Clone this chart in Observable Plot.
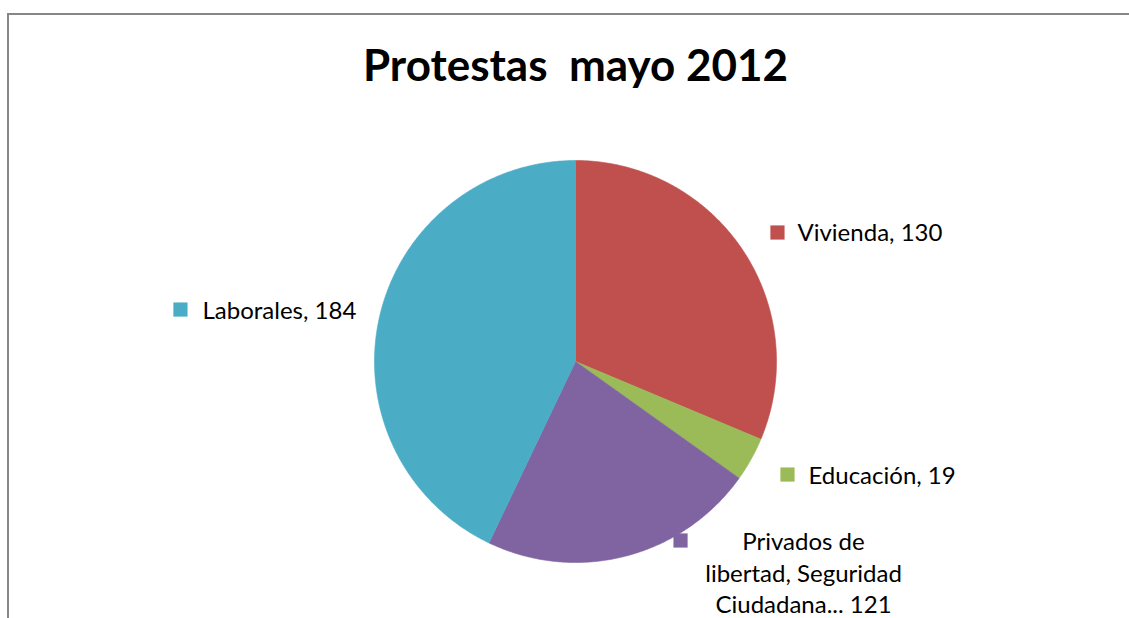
<!DOCTYPE html>
<html><head><meta charset="utf-8">
<script src="https://cdn.jsdelivr.net/npm/d3@7"></script>
<script src="https://cdn.jsdelivr.net/npm/@observablehq/plot@0.6"></script>
<style>
html,body{margin:0;padding:0;background:#fff;}
#wrap{position:relative;width:1129px;height:618px;overflow:hidden;background:#fff;}
#chart{position:absolute;left:0;top:0;}
#border{position:absolute;left:7px;top:13px;right:-10px;bottom:-10px;border-top:2px solid #878787;border-left:2px solid #878787;pointer-events:none;}
</style></head><body>
<div id="wrap"><div id="chart"></div><div id="border"></div></div>
<script>
// ---- data ----
const title = "Protestas  mayo 2012";
const categories = ["Vivienda", "Educación", "Privados de libertad, Seguridad Ciudadana...", "Laborales"];
const values = [130, 19, 121, 184];                 // values printed in the labels
const sliceDegrees = [112.75, 12.75, 80.0, 154.5];  // slice sizes as drawn in the picture (degrees)
const labelTexts = ["Vivienda, 130", "Educación, 19", "Privados de\nlibertad, Seguridad\nCiudadana... 121", "Laborales, 184"];
const colors = ["#C0504D", "#9BBB59", "#8064A2", "#4BACC6"];

// ---- layout (pixels) ----
const W = 1129, H = 618, R = 201, CX = 575, CY = 361;
// offsets of the legend square from the slice's outer mid-point, and of the text from the square
const labelLayout = [
  {sq: [34.6, -17.7], tx: [20, 9], anchor: "start"},
  {sq: [36.4, 15.2], tx: [21, 9], anchor: "start"},
  {sq: [54.7, -15.6], tx: [123, 73], anchor: "middle"},
  {sq: [-199, -7.6], tx: [22, 9], anchor: "start"}
];

const arcs = d3.pie().sort(null)(sliceDegrees);
const poly = [];
arcs.forEach((a, i) => {
  const name = categories[i];
  poly.push({name, x: 0, y: 0});
  const n = Math.max(2, Math.ceil((a.endAngle - a.startAngle) / (Math.PI / 360)));
  for (let k = 0; k <= n; k++) {
    const t = a.startAngle + (a.endAngle - a.startAngle) * k / n;
    poly.push({name, x: Math.sin(t), y: Math.cos(t)});
  }
  poly.push({name, x: 0, y: 0});
});

const labels = arcs.map((a, i) => {
  const m = (a.startAngle + a.endAngle) / 2;
  const L = labelLayout[i];
  const sx = Math.sin(m) + L.sq[0] / R, sy = Math.cos(m) - L.sq[1] / R;
  return {
    name: categories[i], text: labelTexts[i], value: values[i], anchor: L.anchor,
    sx, sy, tx: sx + L.tx[0] / R, ty: sy - L.tx[1] / R
  };
});

const chart = Plot.plot({
  width: W, height: H,
  marginLeft: CX - R, marginRight: W - (CX + R),
  marginTop: CY - R, marginBottom: H - (CY + R),
  x: {domain: [-1, 1], axis: null},
  y: {domain: [-1, 1], axis: null},
  color: {domain: categories, range: colors},
  style: {fontFamily: "Lato, 'Open Sans', sans-serif", fontSize: "24px", background: "transparent", overflow: "visible"},
  marks: [
    Plot.line(poly, {x: "x", y: "y", z: "name", fill: "name", stroke: "name", strokeWidth: 0.6, curve: "linear"}),
    Plot.dot(labels, {x: "sx", y: "sy", fill: "name", symbol: "square", r: 8, stroke: null}),
    Plot.text(labels.filter(d => d.anchor === "start"), {x: "tx", y: "ty", text: "text", textAnchor: "start", lineAnchor: "bottom", fill: "#000"}),
    Plot.text(labels.filter(d => d.anchor === "middle"), {x: "tx", y: "ty", text: "text", textAnchor: "middle", lineAnchor: "bottom", lineHeight: 1.333, fill: "#000"}),
    Plot.text([title], {frameAnchor: "top", dy: -(CY - R - 80), text: d => d, lineAnchor: "bottom", fontSize: 44, fontWeight: "bold", fill: "#000"})
  ]
});
document.getElementById("chart").appendChild(chart);
</script>
</body></html>
